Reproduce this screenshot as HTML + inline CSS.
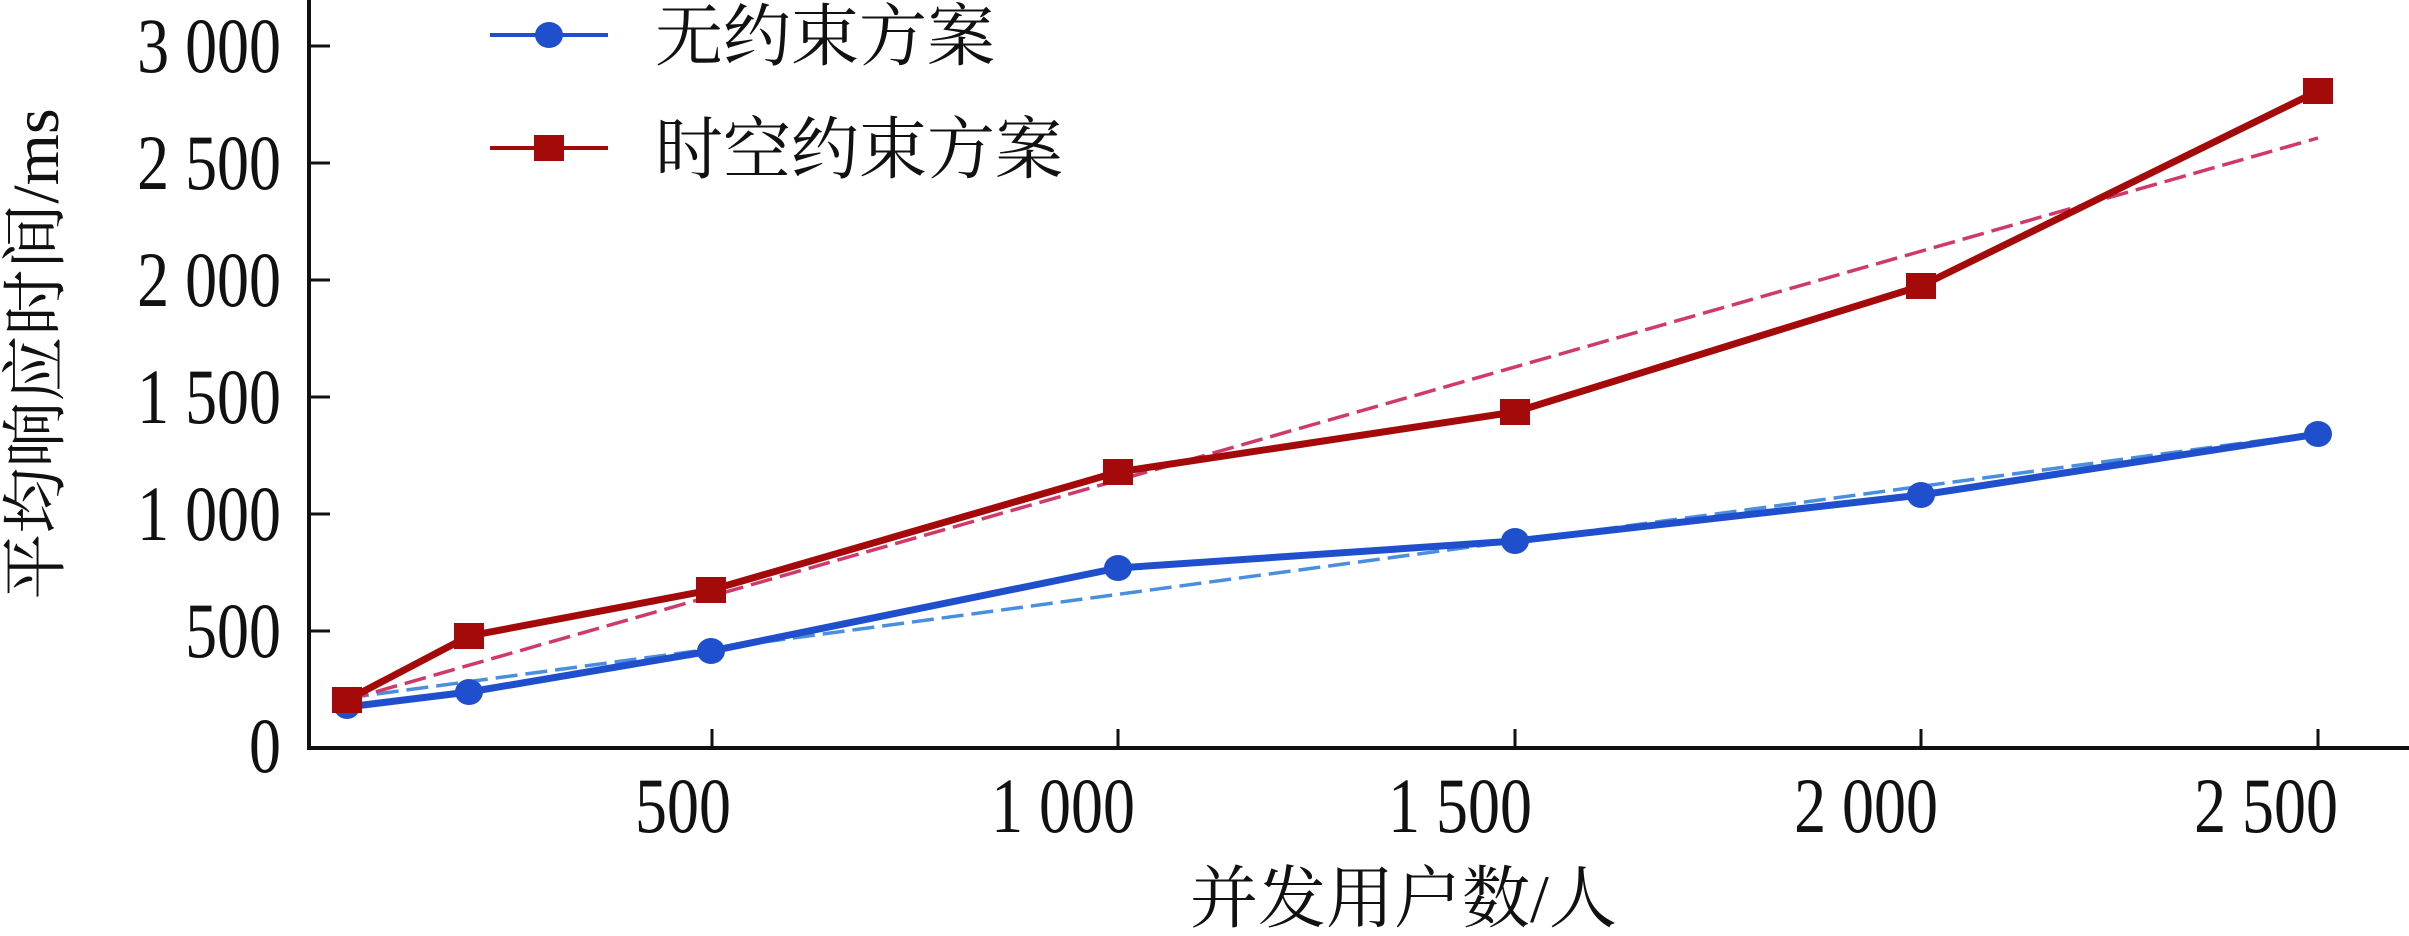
<!DOCTYPE html>
<html><head><meta charset="utf-8"><style>
html,body{margin:0;padding:0;background:#fff;}
svg{display:block;}
text{font-family:"Liberation Serif","Noto Serif CJK SC",serif;fill:#111;}
</style></head><body>
<svg width="2409" height="936" viewBox="0 0 2409 936" xmlns="http://www.w3.org/2000/svg">
<line x1="309" y1="0" x2="309" y2="749" stroke="#111" stroke-width="4"/>
<line x1="307" y1="748" x2="2409" y2="748" stroke="#111" stroke-width="4"/>
<g stroke="#111" stroke-width="3">
<line x1="309" y1="46" x2="330" y2="46"/>
<line x1="309" y1="163" x2="330" y2="163"/>
<line x1="309" y1="280" x2="330" y2="280"/>
<line x1="309" y1="397" x2="330" y2="397"/>
<line x1="309" y1="514" x2="330" y2="514"/>
<line x1="309" y1="631" x2="330" y2="631"/>
<line x1="712" y1="748" x2="712" y2="729"/>
<line x1="1118" y1="748" x2="1118" y2="729"/>
<line x1="1515" y1="748" x2="1515" y2="729"/>
<line x1="1921" y1="748" x2="1921" y2="729"/>
<line x1="2318" y1="748" x2="2318" y2="729"/>
</g>
<g font-size="78" text-anchor="end">
<text transform="translate(281,72) scale(0.82,1)">3 000</text>
<text transform="translate(281,189) scale(0.82,1)">2 500</text>
<text transform="translate(281,306) scale(0.82,1)">2 000</text>
<text transform="translate(281,423) scale(0.82,1)">1 500</text>
<text transform="translate(281,540) scale(0.82,1)">1 000</text>
<text transform="translate(281,657) scale(0.82,1)">500</text>
<text transform="translate(281,772) scale(0.82,1)">0</text>
</g>
<g font-size="78" text-anchor="middle">
<text transform="translate(683,832) scale(0.82,1)">500</text>
<text transform="translate(1063,832) scale(0.82,1)">1 000</text>
<text transform="translate(1460,832) scale(0.82,1)">1 500</text>
<text transform="translate(1866,832) scale(0.82,1)">2 000</text>
<text transform="translate(2266,832) scale(0.82,1)">2 500</text>
</g>
<text x="1190" y="922" font-size="68">并发用户数/人</text>
<text transform="translate(58,354) rotate(-90)" font-size="66" text-anchor="middle">平均响应时间/ms</text>
<line x1="347" y1="698" x2="2318" y2="433" stroke="#4a8ee0" stroke-width="3.5" stroke-dasharray="22,8"/>
<line x1="347" y1="700" x2="2318" y2="138" stroke="#d03a6a" stroke-width="3.5" stroke-dasharray="22,8"/>
<polyline fill="none" stroke="#1f4fcc" stroke-width="7" points="347,707 469,692 711,651 1118,568 1515,541 1921,495 2318,434"/>
<polyline fill="none" stroke="#a50a0a" stroke-width="7" points="347,700 469,636 711,590 1118,472 1515,412 1921,286 2318,91"/>
<g fill="#1f4fcc">
<ellipse cx="347" cy="707" rx="13" ry="12"/>
<ellipse cx="469" cy="692" rx="14" ry="13"/>
<ellipse cx="711" cy="651" rx="14" ry="13"/>
<ellipse cx="1118" cy="568" rx="14" ry="13"/>
<ellipse cx="1515" cy="541" rx="14" ry="13"/>
<ellipse cx="1921" cy="495" rx="14" ry="13"/>
<ellipse cx="2318" cy="434" rx="14" ry="13"/>
</g>
<g fill="#a50a0a">
<rect x="332" y="687" width="30" height="26"/>
<rect x="454" y="623" width="30" height="26"/>
<rect x="696" y="577" width="30" height="26"/>
<rect x="1103" y="459" width="30" height="26"/>
<rect x="1500" y="399" width="30" height="26"/>
<rect x="1906" y="273" width="30" height="26"/>
<rect x="2303" y="78" width="30" height="26"/>
</g>
<line x1="490" y1="35" x2="608" y2="35" stroke="#1f4fcc" stroke-width="4"/>
<ellipse cx="549" cy="35" rx="14" ry="13" fill="#1f4fcc"/>
<text x="655" y="60" font-size="68">无约束方案</text>
<line x1="490" y1="148" x2="608" y2="148" stroke="#a50a0a" stroke-width="4"/>
<rect x="534" y="135" width="30" height="26" fill="#a50a0a"/>
<text x="655" y="173" font-size="68">时空约束方案</text>
</svg>
</body></html>
